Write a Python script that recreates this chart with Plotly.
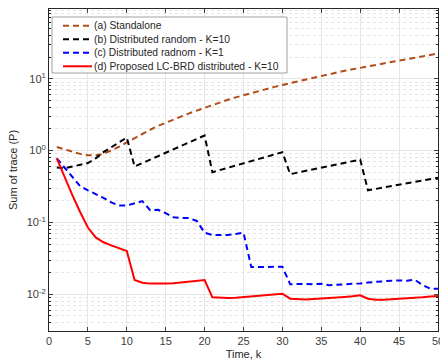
import plotly.graph_objects as go

k = list(range(1, 51))

standalone = [1.12, 1.04, 0.96, 0.90, 0.86, 0.86, 0.90, 1.00, 1.13, 1.30,
              1.50, 1.72, 1.95, 2.20, 2.45, 2.72, 3.00, 3.30, 3.60, 3.95,
              4.30, 4.70, 5.10, 5.50, 5.90, 6.35, 6.80, 7.25, 7.70, 8.20,
              8.70, 9.20, 9.80, 10.4, 11.0, 11.6, 12.2, 12.9, 13.5, 14.2,
              14.9, 15.6, 16.3, 17.1, 17.9, 18.7, 19.5, 20.5, 21.4, 22.4]

dist_random_k10 = [0.58, 0.57, 0.60, 0.63, 0.67, 0.78, 0.95, 1.11, 1.30, 1.52,
                   0.60, 0.67, 0.745, 0.83, 0.93, 1.03, 1.15, 1.28, 1.43, 1.62,
                   0.50, 0.537, 0.577, 0.62, 0.666, 0.715, 0.768, 0.825, 0.886, 0.95,
                   0.47, 0.495, 0.521, 0.549, 0.578, 0.608, 0.641, 0.675, 0.711, 0.75,
                   0.28, 0.293, 0.306, 0.32, 0.335, 0.35, 0.366, 0.383, 0.401, 0.42]

dist_random_k1 = [0.78, 0.58, 0.42, 0.32, 0.28, 0.25, 0.22, 0.19, 0.172, 0.172,
                  0.185, 0.198, 0.148, 0.15, 0.135, 0.118, 0.115, 0.115, 0.105, 0.072,
                  0.067, 0.067, 0.067, 0.069, 0.072, 0.024, 0.024, 0.024, 0.024, 0.0242,
                  0.0138, 0.014, 0.014, 0.0138, 0.014, 0.0134, 0.0136, 0.0138, 0.0137, 0.0142,
                  0.0146, 0.015, 0.0154, 0.0155, 0.0156, 0.0155, 0.016, 0.0135, 0.012, 0.012]

lc_brd_k10 = [0.78, 0.43, 0.24, 0.14, 0.085, 0.062, 0.053, 0.048, 0.044, 0.040,
              0.0158, 0.0145, 0.0141, 0.014, 0.0141, 0.0143, 0.0146, 0.015, 0.0154, 0.0158,
              0.0091, 0.0089, 0.0089, 0.009, 0.0092, 0.0094, 0.0096, 0.0098, 0.01, 0.0102,
              0.0087, 0.0085, 0.0085, 0.0086, 0.0087, 0.0089, 0.009, 0.0092, 0.0094, 0.0097,
              0.0087, 0.0084, 0.0084, 0.0085, 0.0087, 0.0088, 0.009, 0.0091, 0.0093, 0.0095]

x_ticks = list(range(0, 51, 5))
y_ticks = [0.01, 0.1, 1, 10]
y_labels = ["10<sup>-2</sup>", "10<sup>-1</sup>", "10<sup>0</sup>", "10<sup>1</sup>"]

series = [
    ("(a) Standalone", standalone, "rgb(178,76,25)", "6px,4px"),
    ("(b) Distributed random - K=10", dist_random_k10, "black", "6px,4px"),
    ("(c) Distributed radnom - K=1", dist_random_k1, "blue", "6px,4px"),
    ("(d) Proposed LC-BRD distributed - K=10", lc_brd_k10, "red", "solid"),
]

# plot area in pixels (used to place the compact legend box)
W, H = 440, 360
ML, MR, MT, MB = 49, 2, 9, 29
PW, PH = W - ML - MR, H - MT - MB


def px_x(x):
    return (x - ML) / PW


def px_y(y):
    return (H - MB - y) / PH


fig = go.Figure()
for name, vals, color, dash in series:
    fig.add_trace(go.Scatter(x=k, y=vals, mode="lines", name=name,
                             line=dict(color=color, width=2, dash=dash)))

# compact legend: framed box, line samples and labels
shapes = [dict(type="rect", xref="paper", yref="paper",
               x0=px_x(52), x1=px_x(287), y0=px_y(73), y1=px_y(17),
               fillcolor="white", line=dict(color="#a0a0a0", width=1), layer="above")]
annotations = []
row_y = [25.7, 39.3, 52.8, 66.3]
for (name, vals, color, dash), ry in zip(series, row_y):
    shapes.append(dict(type="line", xref="paper", yref="paper",
                       x0=px_x(63), x1=px_x(92), y0=px_y(ry), y1=px_y(ry),
                       line=dict(color=color, width=2, dash=dash), layer="above"))
    annotations.append(dict(xref="paper", yref="paper", x=px_x(92), y=px_y(ry),
                            text=name, showarrow=False, xanchor="left", yanchor="middle",
                            font=dict(size=10.3, color="#262626")))

axis_font = dict(family="Liberation Sans, Arial", size=11, color="#404040")
fig.update_layout(
    width=W, height=H,
    margin=dict(l=ML, r=MR, t=MT, b=MB, autoexpand=False),
    paper_bgcolor="white", plot_bgcolor="white",
    font=dict(family="Liberation Sans, Arial", size=11, color="#262626"),
    showlegend=False,
    shapes=shapes,
    annotations=annotations,
)
fig.update_xaxes(
    range=[0, 50], tickvals=x_ticks, ticks="inside", ticklen=4,
    showline=True, linecolor="#262626", linewidth=1, mirror="ticks",
    showgrid=True, gridcolor="#e6e6e6", gridwidth=1, zeroline=False,
    tickfont=axis_font, ticklabeloverflow="allow", automargin=False,
    title=dict(text="Time, k", font=dict(size=11, color="#262626"), standoff=4),
)
fig.update_yaxes(
    type="log", range=[-2.51, 1.97], tickvals=y_ticks, ticktext=y_labels,
    ticks="inside", ticklen=4, automargin=False,
    showline=True, linecolor="#262626", linewidth=1, mirror="ticks",
    showgrid=True, gridcolor="#e6e6e6", gridwidth=1, zeroline=False,
    tickfont=axis_font,
    minor=dict(dtick="D1", ticks="inside", ticklen=2, tickcolor="#262626",
               showgrid=True, gridcolor="#e4e4e4", griddash="dot", gridwidth=1),
    title=dict(text="Sum of trace (P)", font=dict(size=11, color="#262626"), standoff=6),
)

fig.write_html("out.html")
